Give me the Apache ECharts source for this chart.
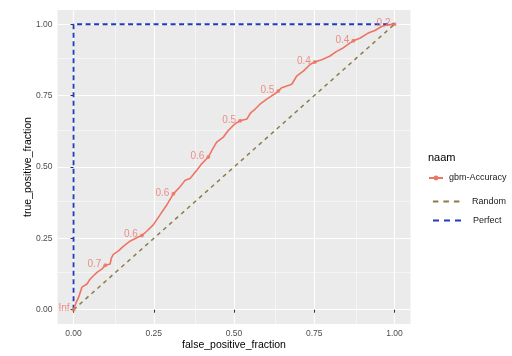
<!DOCTYPE html>
<html>
<head>
<meta charset="utf-8">
<script src="https://cdn.jsdelivr.net/npm/echarts@6/dist/echarts.min.js"></script>
<style>html,body{margin:0;padding:0;background:#fff}#c{width:512px;height:356px}</style>
</head>
<body>
<div id="c"></div>
<script>
// ROC curve (false / true positive fractions)
var fpr = [0, 0.008, 0.016, 0.026, 0.042, 0.05, 0.062, 0.073, 0.088, 0.099, 0.114, 0.118, 0.124, 0.14, 0.156, 0.177, 0.197, 0.213, 0.228, 0.249, 0.27, 0.291, 0.311, 0.332, 0.348, 0.363, 0.384, 0.4, 0.42, 0.431, 0.446, 0.467, 0.482, 0.503, 0.519, 0.54, 0.552, 0.566, 0.581, 0.602, 0.633, 0.649, 0.68, 0.695, 0.716, 0.737, 0.752, 0.773, 0.798, 0.82, 0.84, 0.861, 0.872, 0.892, 0.918, 0.939, 0.96, 0.98, 1.0];
var tpr = [0, 0.025, 0.044, 0.079, 0.09, 0.105, 0.119, 0.131, 0.142, 0.156, 0.16, 0.182, 0.194, 0.206, 0.223, 0.241, 0.252, 0.26, 0.275, 0.298, 0.333, 0.368, 0.406, 0.431, 0.454, 0.46, 0.489, 0.512, 0.535, 0.558, 0.587, 0.605, 0.628, 0.651, 0.662, 0.668, 0.69, 0.703, 0.72, 0.738, 0.761, 0.778, 0.79, 0.818, 0.836, 0.859, 0.868, 0.876, 0.888, 0.905, 0.917, 0.934, 0.942, 0.951, 0.969, 0.978, 0.992, 0.998, 1.0];
// cutoff markers
var cutX = [0, 0.099, 0.213, 0.311, 0.42, 0.519, 0.638, 0.752, 0.872, 1.0];
var cutY = [0, 0.156, 0.26, 0.406, 0.535, 0.662, 0.766, 0.868, 0.942, 1.0];
var cutLabels = ['Inf', '0.7', '0.6', '0.6', '0.6', '0.5', '0.5', '0.4', '0.4', '0.2'];
// reference lines
var randomX = [0, 1];
var randomY = [0, 1];
var perfectX = [0, 0, 1];
var perfectY = [0, 1, 1];
// axes
var majorTicks = [0, 0.25, 0.5, 0.75, 1];
var minorTicks = [0.125, 0.375, 0.625, 0.875];
var seriesNames = ['gbm-Accuracy', 'Random', 'Perfect'];
var legendTitle = 'naam';
var xTitle = 'false_positive_fraction';
var yTitle = 'true_positive_fraction';

function zip(a, b) { return a.map(function (v, i) { return [v, b[i]]; }); }

var FONT = 'Liberation Sans, Arial, sans-serif';
var RED = '#EE7464';
var OLIVE = '#8C7C45';
var BLUE = '#1F3CBF';

var gridLines = [];
majorTicks.forEach(function (v) {
  gridLines.push({ xAxis: v, lineStyle: { width: 1.1 } });
  gridLines.push({ yAxis: v, lineStyle: { width: 1.1 } });
});
minorTicks.forEach(function (v) {
  gridLines.push({ xAxis: v, lineStyle: { width: 0.5 } });
  gridLines.push({ yAxis: v, lineStyle: { width: 0.5 } });
});

function axisCommon(name) {
  return {
    type: 'value', min: -0.05, max: 1.05,
    name: name, nameLocation: 'middle', nameMoveOverlap: false,
    nameTextStyle: { color: '#000', fontSize: 10.5, fontFamily: FONT },
    axisLine: { show: false },
    axisTick: { show: true, customValues: majorTicks, length: 3, lineStyle: { color: '#333', width: 1 } },
    axisLabel: { customValues: majorTicks, color: '#4D4D4D', fontSize: 8.5, fontFamily: FONT, margin: 5,
      formatter: function (v) { return Number(v).toFixed(2); } },
    splitLine: { show: false }
  };
}

var xAx = axisCommon(xTitle); xAx.nameGap = 16;
var yAx = axisCommon(yTitle); yAx.nameGap = 24;

var legText = { fontSize: 9, color: '#1a1a1a', fontFamily: FONT };
var chart = echarts.init(document.getElementById('c'), null, { renderer: 'canvas' });
chart.setOption({
  animation: false,
  title: { text: legendTitle, left: 428, top: 152, padding: 0, textStyle: { fontSize: 11, fontWeight: 'normal', color: '#000', fontFamily: FONT } },
  grid: { left: 57.5, top: 10, width: 353, height: 317, show: true, backgroundColor: '#EBEBEB', borderWidth: 0 },
  xAxis: xAx,
  yAxis: yAx,
  legend: [
    { data: [seriesNames[0]], left: 428, top: 173.5, padding: 0, itemWidth: 14, itemHeight: 6, itemGap: 0,
      textStyle: Object.assign({ padding: [0, 0, 0, 1] }, legText), selectedMode: false },
    { data: [seriesNames[1]], left: 432, top: 197, padding: 0, itemWidth: 27, itemHeight: 8,
      itemStyle: { opacity: 0 }, lineStyle: { width: 1.8, type: [5.5, 5] },
      textStyle: Object.assign({ padding: [0, 0, 0, 7] }, legText), selectedMode: false },
    { data: [seriesNames[2]], left: 432, top: 216, padding: 0, itemWidth: 28, itemHeight: 8,
      itemStyle: { opacity: 0 }, lineStyle: { width: 2, type: [6, 5] },
      textStyle: Object.assign({ padding: [0, 0, 0, 7] }, legText), selectedMode: false }
  ],
  series: [
    { type: 'line', name: '_grid', data: [], silent: true, z: 0, zlevel: 0,
      markLine: { silent: true, z: 0, symbol: 'none', label: { show: false }, animation: false,
        lineStyle: { color: '#FFFFFF', type: 'solid' }, data: gridLines } },
    { type: 'line', name: seriesNames[0], data: zip(fpr, tpr), showSymbol: false, symbol: 'circle', symbolSize: 4,
      itemStyle: { color: RED }, lineStyle: { color: RED, width: 1.6 }, z: 7 },
    { type: 'scatter', name: seriesNames[0], data: zip(cutX, cutY), symbolSize: 4,
      itemStyle: { color: RED }, z: 8,
      label: { show: true, position: 'left', distance: 2, offset: [0, -1], color: '#E8776C', fontSize: 10, fontFamily: FONT,
        formatter: function (p) { return cutLabels[p.dataIndex]; } } },
    { type: 'line', name: seriesNames[1], data: zip(randomX, randomY), showSymbol: false, symbol: 'circle',
      lineStyle: { color: OLIVE, width: 1.5, type: [4, 4] }, itemStyle: { color: OLIVE }, z: 6 },
    { type: 'line', name: seriesNames[2], data: zip(perfectX, perfectY), showSymbol: false, symbol: 'circle',
      lineStyle: { color: BLUE, width: 1.8, type: [5, 3.5] }, itemStyle: { color: BLUE }, z: 6 }
  ]
});
</script>
</body>
</html>
